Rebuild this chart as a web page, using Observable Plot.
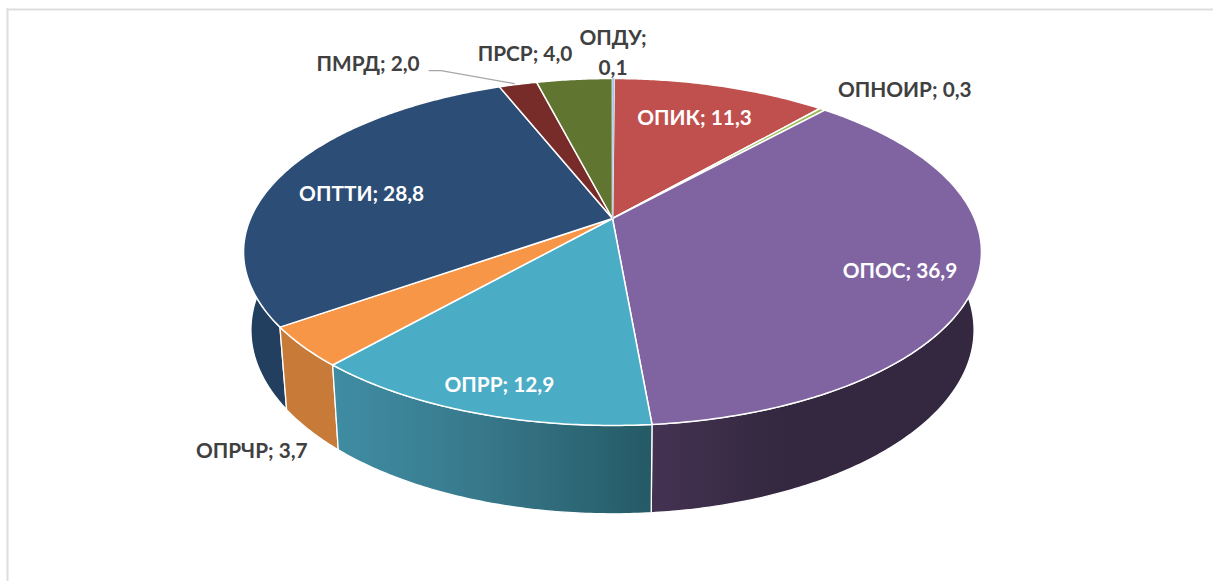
<!DOCTYPE html>
<html>
<head>
<meta charset="utf-8">
<script src="https://cdn.jsdelivr.net/npm/d3@7"></script>
<script src="https://cdn.jsdelivr.net/npm/@observablehq/plot@0.6"></script>
<style>
  html, body { margin: 0; padding: 0; background: #fff; }
  svg { display: block; }
</style>
</head>
<body>
<div id="chart"></div>
<script>
const categories = ["ОПИК", "ОПНОИР", "ОПОС", "ОПРР", "ОПРЧР", "ОПТТИ", "ПМРД", "ПРСР", "ОПДУ"];
const shares = [11.3, 0.3, 36.9, 12.9, 3.7, 28.8, 2.0, 4.0, 0.1];
const valueLabels = ["11,3", "0,3", "36,9", "12,9", "3,7", "28,8", "2,0", "4,0", "0,1"];

const topColors = ["#c0504d", "#9bbb59", "#8064a2", "#4bacc6", "#f79646", "#2c4d75", "#772c2a", "#5f7530", "#a9c4e6"];
const wallColors = ["#8a3836", "#6f8740", "url(#wallPurple)", "url(#wallTeal)", "#c87b38", "#233f60", "#552020", "#445423", "#7a8da6"];
const labelColors = ["#fff", "#404040", "#fff", "#fff", "#404040", "#fff", "#404040", "#404040", "#404040"];
const labelDx = [-24.5, 84, -78.5, 22.6, -53, 79, -148, -47.5, 1.5];
const labelDy = [29.6, -21, -6, -31, 101, 17, -23, -28, -28];
const labelBreak = ["; ", "; ", "; ", "; ", "; ", "; ", "; ", "; ", ";\n"];

// Projection of the pie's circular disc (perspective tilt)
const tilt = 0.193;
const xUnit = 362, yUnit = 167;
const floorScale = 0.98, floorDrop = 76 / yUnit, floorStretch = 177 / yUnit;
const firstSliceAngle = 0.006;

const top3d = a => {
  const u = Math.sin(a), v = -Math.cos(a), den = 1 - tilt * v;
  return {x: u / den, y: v / den};
};
const floor3d = a => {
  const p = top3d(a);
  return {x: p.x * floorScale, y: floorDrop + p.y * floorStretch};
};

const total = d3.sum(shares);
const toAngle = s => (s / total) * 2 * Math.PI;
const ends = d3.cumsum(shares);
const slices = categories.map((name, i) => {
  const a0 = toAngle(ends[i] - shares[i]), a1 = toAngle(ends[i]);
  const n = Math.max(2, Math.ceil((a1 - a0) / 0.01));
  const angles = d3.range(n + 1).map(k => firstSliceAngle + a0 + ((a1 - a0) * k) / n);
  return {name, i, a0, a1, mid: (a0 + a1) / 2, angles};
});

const facePoints = s => [{x: 0, y: 0}, ...s.angles.map(top3d), {x: 0, y: 0}];
const wallPoints = s => {
  const up = s.angles.map(top3d);
  const down = s.angles.map(floor3d).reverse();
  return [...up, ...down, up[0]];
};

const backToFront = slices.slice().sort((p, q) => -Math.cos(p.mid) - -Math.cos(q.mid));

const labels = slices.map(s => {
  const p = top3d(s.mid);
  return {
    x: p.x, y: p.y, text: s.name + labelBreak[s.i] + valueLabels[s.i],
    fill: labelColors[s.i], dx: labelDx[s.i], dy: labelDy[s.i]
  };
});

const defs = () => {
  const d = d3.create("svg:defs");
  const g1 = d.append("linearGradient").attr("id", "wallTeal");
  [[0, "#3f8da3"], [0.45, "#38798c"], [1, "#255a66"]].forEach(([o, c]) =>
    g1.append("stop").attr("offset", o).attr("stop-color", c));
  const g2 = d.append("linearGradient").attr("id", "wallPurple");
  [[0, "#443252"], [0.4, "#33283f"], [1, "#33283f"]].forEach(([o, c]) =>
    g2.append("stop").attr("offset", o).attr("stop-color", c));
  return d.node();
};

// Leader from ПМРД rim to its label
const pmrd = slices[6];
const pmrdRim = top3d(pmrd.mid);
const leader = [
  {x: pmrdRim.x - 2 / xUnit, y: pmrdRim.y - 1 / yUnit},
  {x: pmrdRim.x - 75 / xUnit, y: pmrdRim.y - 14 / yUnit},
  {x: pmrdRim.x - 87 / xUnit, y: pmrdRim.y - 14 / yUnit}
];

const frameLeft = 7, frameTop = 9, frameRight = 0;
const width = 1213, height = 581, cx = 612, cy = 218;
const thinSliceStroke = s => s.name === "ОПДУ" ? topColors[s.i] : "#fff";

const chart = Plot.plot({
  width, height,
  marginLeft: frameLeft, marginTop: frameTop, marginRight: frameRight, marginBottom: 0,
  x: {axis: null, domain: [(frameLeft - cx) / xUnit, (width - frameRight - cx) / xUnit]},
  y: {axis: null, domain: [(frameTop - cy) / yUnit, (height - cy) / yUnit], range: [frameTop, height]},
  style: {background: "#fff"},
  marks: [
    defs,
    Plot.frame({anchor: "left", stroke: "#dedede", strokeWidth: 2}),
    Plot.frame({anchor: "top", stroke: "#dedede", strokeWidth: 2}),
    ...backToFront.map(s => Plot.line(wallPoints(s), {
      x: "x", y: "y", fill: wallColors[s.i], stroke: "#fff", strokeWidth: 1.3, strokeLinejoin: "round"
    })),
    ...slices.map(s => Plot.line(facePoints(s), {
      x: "x", y: "y", fill: topColors[s.i], stroke: thinSliceStroke(s),
      strokeWidth: s.name === "ОПДУ" ? 0.5 : 1.5, strokeLinejoin: "round"
    })),
    Plot.line(leader, {x: "x", y: "y", stroke: "#a6a6a6", strokeWidth: 1.3}),
    ...labels.map(l => Plot.text([l], {
      x: "x", y: "y", text: "text", dx: l.dx, dy: l.dy, fill: l.fill,
      fontFamily: "Lato, 'Open Sans', sans-serif", fontWeight: 700, fontSize: 20.8,
      lineHeight: 1.45, textAnchor: "middle", lineAnchor: "middle"
    }))
  ]
});
document.getElementById("chart").appendChild(chart);
</script>
</body>
</html>
